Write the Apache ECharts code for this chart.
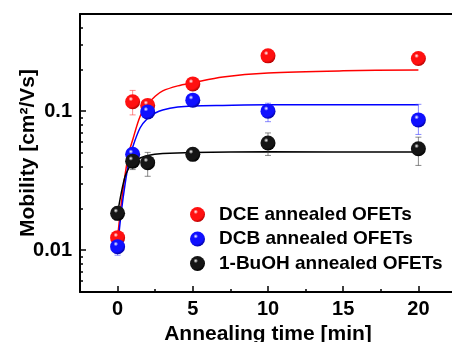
<!DOCTYPE html>
<html><head><meta charset="utf-8">
<script src="https://cdn.jsdelivr.net/npm/echarts@6/dist/echarts.min.js"></script>
<style>html,body{margin:0;padding:0;background:#fff}#c{width:452px;height:342px}</style>
</head><body><div id="c"></div>
<script>
// ---- data ----
const seriesNames = ['DCE annealed OFETs', 'DCB annealed OFETs', '1-BuOH annealed OFETs'];
const times = [0, 1, 2, 5, 10, 20];
const dceMobility  = [0.0123, 0.117, 0.110, 0.157, 0.250, 0.239];
const dcbMobility  = [0.0106, 0.0489, 0.0988, 0.120, 0.100, 0.0865];
const buohMobility = [0.0184, 0.0437, 0.0426, 0.0489, 0.059, 0.0537];
const dceErrLow   = [0.0115, 0.094, 0.104, 0.150, 0.245, 0.222];
const dceErrHigh  = [0.0131, 0.141, 0.117, 0.165, 0.255, 0.250];
const dcbErrLow   = [0.0092, 0.045, 0.092, 0.114, 0.084, 0.068];
const dcbErrHigh  = [0.0118, 0.053, 0.106, 0.126, 0.114, 0.112];
const buohErrLow  = [0.0165, 0.038, 0.034, 0.045, 0.048, 0.0407];
const buohErrHigh = [0.0205, 0.049, 0.0505, 0.054, 0.0697, 0.065];
// fitted curves
const dceFitT  = [0, 0.25, 0.5, 0.75, 1, 1.5, 2, 2.5, 3, 4, 5, 7, 10, 15, 20];
const dceFitV  = [0.0123, 0.022, 0.035, 0.05, 0.062, 0.092, 0.112, 0.128, 0.140, 0.152, 0.160, 0.176, 0.188, 0.195, 0.198];
const dcbFitT  = [0, 0.25, 0.5, 0.75, 1, 1.5, 2, 2.5, 3, 4, 5, 7, 10, 20];
const dcbFitV  = [0.0106, 0.019, 0.030, 0.043, 0.055, 0.076, 0.089, 0.097, 0.102, 0.107, 0.109, 0.110, 0.111, 0.111];
const buohFitT = [0, 0.25, 0.5, 0.75, 1, 1.5, 2, 3, 5, 10, 20];
const buohFitV = [0.0184, 0.026, 0.034, 0.039, 0.043, 0.046, 0.048, 0.0495, 0.0505, 0.051, 0.0508];
// axes
const xMin = -2.5, xMax = 22.5;
const xMajorTicks = [0, 5, 10, 15, 20];
const xMinorTicks = [2.5, 7.5, 12.5, 17.5];
const yMin = 0.005, yMax = 0.5;
const yMajorTicks = [0.01, 0.1];
const yMinorTicks = [0.006, 0.007, 0.008, 0.009, 0.02, 0.03, 0.04, 0.05, 0.06, 0.07, 0.08, 0.09, 0.2, 0.3, 0.4];

const colors = ['#ff0000', '#0000ff', '#000000'];
const errColors = ['rgba(255,60,60,0.6)', 'rgba(60,60,255,0.6)', 'rgba(60,60,60,0.6)'];
function sphere(mid, dark) {
  return new echarts.graphic.RadialGradient(0.38, 0.32, 0.7, [
    {offset: 0, color: '#ffffff'},
    {offset: 0.22, color: mid},
    {offset: 0.75, color: mid},
    {offset: 1, color: dark}
  ]);
}
const sphereFills = [sphere('#ff1010', '#b00000'), sphere('#1010ff', '#0000a0'), sphere('#151515', '#000000')];

const mob = [dceMobility, dcbMobility, buohMobility];
const lows = [dceErrLow, dcbErrLow, buohErrLow];
const highs = [dceErrHigh, dcbErrHigh, buohErrHigh];
const fitsT = [dceFitT, dcbFitT, buohFitT];
const fitsV = [dceFitV, dcbFitV, buohFitV];

const series = [];
for (let s = 0; s < 3; s++) {
  series.push({
    type: 'line', name: 'fit' + s, xAxisIndex: 0, yAxisIndex: 0,
    data: fitsT[s].map((t, i) => [t, fitsV[s][i]]),
    showSymbol: false, smooth: 0.3, lineStyle: {color: colors[s], width: 1.5}, z: 2,
    silent: true
  });
  series.push({
    type: 'custom', name: 'err' + s, xAxisIndex: 0, yAxisIndex: 0,
    data: times.map((t, i) => [t, lows[s][i], highs[s][i]]),
    renderItem: function (params, api) {
      const lo = api.coord([api.value(0), api.value(1)]);
      const hi = api.coord([api.value(0), api.value(2)]);
      const c = 3;
      const st = {stroke: errColors[s], lineWidth: 1, fill: null};
      return {type: 'group', children: [
        {type: 'line', shape: {x1: lo[0], y1: lo[1], x2: hi[0], y2: hi[1]}, style: st},
        {type: 'line', shape: {x1: lo[0] - c, y1: lo[1], x2: lo[0] + c, y2: lo[1]}, style: st},
        {type: 'line', shape: {x1: hi[0] - c, y1: hi[1], x2: hi[0] + c, y2: hi[1]}, style: st}
      ]};
    },
    z: 3, silent: true
  });
}
for (let s = 0; s < 3; s++) {
  series.push({
    type: 'scatter', name: seriesNames[s], xAxisIndex: 0, yAxisIndex: 0,
    data: times.map((t, i) => [t, mob[s][i]]),
    symbol: 'circle', symbolSize: 15,
    itemStyle: {color: sphereFills[s], opacity: 1}, z: 5
  });
}

const chart = echarts.init(document.getElementById('c'), null, {renderer: 'canvas'});
chart.setOption({
  animation: false,
  backgroundColor: '#ffffff',
  grid: {left: 80, top: 14, right: -4, bottom: 50, containLabel: false, outerBoundsMode: 'none'},
  legend: {
    data: seriesNames, orient: 'vertical', left: 185, top: 200,
    itemWidth: 15, itemHeight: 15, itemGap: 5.5,
    textStyle: {fontFamily: 'Liberation Sans', fontWeight: 'bold', fontSize: 19, color: '#000', padding: [0, 0, 0, 9], lineHeight: 19},
    selectedMode: false
  },
  xAxis: [
    {type: 'value', position: 'bottom', min: xMin, max: xMax,
     name: 'Annealing time [min]', nameLocation: 'middle', nameGap: 32, nameMoveOverlap: false,
     nameTextStyle: {fontFamily: 'Liberation Sans', fontWeight: 'bold', fontSize: 21, color: '#000'},
     axisLine: {show: true, onZero: false, lineStyle: {color: '#000', width: 2}},
     axisTick: {show: true, inside: true, length: 6, customValues: xMajorTicks, lineStyle: {color: '#000', width: 1.5}},
     axisLabel: {show: true, customValues: xMajorTicks, margin: 7, fontFamily: 'Liberation Sans', fontWeight: 'bold', fontSize: 20, color: '#000'},
     splitLine: {show: false}},
    {type: 'value', position: 'bottom', min: xMin, max: xMax,
     axisLine: {show: false, onZero: false},
     axisTick: {show: true, inside: true, length: 3, customValues: xMinorTicks, lineStyle: {color: '#000', width: 1.5}},
     axisLabel: {show: false}, splitLine: {show: false}},
    {type: 'value', position: 'top', min: xMin, max: xMax,
     axisLine: {show: true, onZero: false, lineStyle: {color: '#000', width: 2}},
     axisTick: {show: false}, axisLabel: {show: false}, splitLine: {show: false}}
  ],
  yAxis: [
    {type: 'log', logBase: 10, position: 'left', min: yMin, max: yMax,
     name: 'Mobility [cm²/Vs]', nameLocation: 'middle', nameGap: 41, nameRotate: 90, nameMoveOverlap: false,
     nameTextStyle: {fontFamily: 'Liberation Sans', fontWeight: 'bold', fontSize: 21, color: '#000'},
     axisLine: {show: true, onZero: false, lineStyle: {color: '#000', width: 2}},
     axisTick: {show: true, inside: true, length: 6, customValues: yMajorTicks, lineStyle: {color: '#000', width: 1.5}},
     axisLabel: {show: true, customValues: yMajorTicks, margin: 8, formatter: v => String(v), fontFamily: 'Liberation Sans', fontWeight: 'bold', fontSize: 20, color: '#000'},
     splitLine: {show: false}},
    {type: 'log', logBase: 10, position: 'left', min: yMin, max: yMax,
     axisLine: {show: false, onZero: false},
     axisTick: {show: true, inside: true, length: 3, customValues: yMinorTicks, lineStyle: {color: '#000', width: 1.5}},
     axisLabel: {show: false}, splitLine: {show: false}}
  ],
  series: series
});
</script></body></html>
